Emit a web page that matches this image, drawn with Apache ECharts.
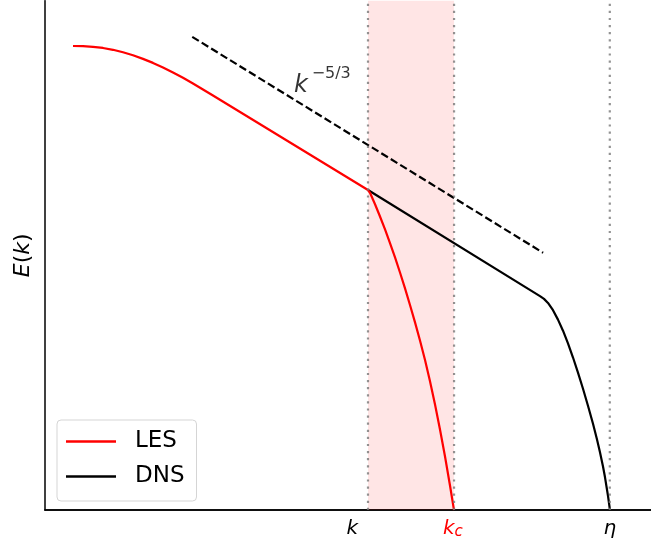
<!DOCTYPE html>
<html>
<head>
<meta charset="utf-8">
<script src="https://cdn.jsdelivr.net/npm/echarts@6/dist/echarts.min.js"></script>
<style>
  html, body { margin: 0; padding: 0; background: #ffffff; }
  #chart { width: 651px; height: 545px; }
</style>
</head>
<body>
<div id="chart"></div>
<script>
// Energy spectrum sketch: log k on x, log E(k) on y (arbitrary units)

// LES spectrum (resolved up to the cutoff k_c)
const lesK = [0.462, 0.627, 0.792, 0.957, 1.122, 1.287, 1.452, 1.617, 1.782, 1.947, 2.112, 2.277, 2.442, 2.607, 2.772,
              5.330, 5.347, 5.363, 5.446, 5.528, 5.611, 5.693, 5.776, 5.858, 5.941, 6.023, 6.106, 6.188, 6.271, 6.353,
              6.436, 6.518, 6.601, 6.683, 6.749];
const lesE = [9.111, 9.107, 9.095, 9.072, 9.036, 8.987, 8.928, 8.858, 8.779, 8.690, 8.592, 8.486, 8.374, 8.257, 8.139,
              6.283, 6.262, 6.228, 6.004, 5.763, 5.510, 5.242, 4.960, 4.663, 4.351, 4.025, 3.683, 3.328, 2.947, 2.529,
              2.073, 1.581, 1.050, 0.481, 0.000];

// DNS spectrum (continues to the Kolmogorov scale)
const dnsK = [5.330, 8.168, 8.234, 8.300, 8.383, 8.465, 8.548, 8.630, 8.713, 8.795, 8.878, 8.960, 9.043, 9.109, 9.158,
              9.208, 9.241, 9.290, 9.323];
const dnsE = [6.283, 4.200, 4.145, 4.066, 3.923, 3.738, 3.521, 3.271, 2.994, 2.696, 2.380, 2.046, 1.693, 1.386, 1.135,
              0.854, 0.642, 0.279, 0.000];

// -5/3 reference slope
const slopeK = [2.43, 8.22];
const slopeE = [9.29, 5.05];

// Filter band and marked wavenumbers (k, k_c, eta)
const bandK = [5.33, 6.75];
const markK = [5.33, 6.75, 9.32];
const yRange = [0, 10];

// Tick labels on the k axis
const tickK = [5.07, 6.73, 9.32];
const tickNames = ['{i|k}', '{r|k}{s|c}', '{i|η}'];

// Slope annotation anchors
const noteK = [4.11, 4.40];
const noteE = [8.325, 8.57];
const noteText = ['k', '−5/3'];

const zip = (a, b) => a.map((v, i) => [v, b[i]]);
const FONT = 'DejaVu Sans';

const guideSeries = markK.map((v, i) => ({
  name: 'guide' + i, type: 'line', data: yRange.map(y => [v, y]),
  showSymbol: false, symbol: 'none', silent: true, z: 6,
  lineStyle: { color: 'rgba(120,120,120,0.8)', width: 2.2, type: [2.2, 4.9], cap: 'butt' }
}));

const chart = echarts.init(document.getElementById('chart'), null, { renderer: 'canvas' });

chart.setOption({
  animation: false,
  backgroundColor: '#ffffff',
  grid: { left: 45, right: 0, top: 0.7, bottom: 35, containLabel: false },
  xAxis: [
    {
      type: 'value', min: 0, max: 10,
      splitLine: { show: false },
      axisTick: { show: false },
      axisLine: { show: true, onZero: false, lineStyle: { color: '#000', width: 1.5 } },
      axisLabel: {
        show: true,
        customValues: tickK,
        margin: 8,
        formatter: (v) => {
          const i = tickK.findIndex(t => Math.abs(t - v) < 1e-6);
          return i >= 0 ? tickNames[i] : '';
        },
        rich: {
          i: { fontFamily: FONT, fontSize: 20, fontStyle: 'italic', color: '#000', lineHeight: 22 },
          r: { fontFamily: FONT, fontSize: 20, fontStyle: 'italic', color: '#ff0000', lineHeight: 22 },
          s: { fontFamily: FONT, fontSize: 15, fontStyle: 'italic', color: '#ff0000', lineHeight: 15, padding: [7, 0, 0, 0] }
        }
      }
    },
    {
      type: 'value', position: 'top', min: 0, max: 10,
      splitLine: { show: false }, axisTick: { show: false }, axisLabel: { show: false },
      axisLine: { show: true, lineStyle: { color: '#000', width: 1.5 } }
    }
  ],
  yAxis: {
    type: 'value', min: yRange[0], max: yRange[1],
    splitLine: { show: false }, axisTick: { show: false }, axisLabel: { show: false },
    axisLine: { show: true, onZero: false, lineStyle: { color: '#000', width: 1.5 } },
    name: '{i|E}{u|(}{i|k}{u|)}',
    nameLocation: 'middle',
    nameRotate: 90,
    nameGap: 11,
    nameTextStyle: {
      rich: {
        i: { fontFamily: FONT, fontSize: 22, fontStyle: 'italic', color: '#000' },
        u: { fontFamily: FONT, fontSize: 22, color: '#000' }
      }
    }
  },
  legend: {
    data: ['LES', 'DNS'],
    orient: 'vertical',
    left: 57, top: 420,
    icon: 'rect',
    itemWidth: 50, itemHeight: 2.5,
    itemGap: 12,
    padding: [10, 12, 13, 9],
    backgroundColor: 'rgba(255,255,255,0.8)',
    borderColor: '#d5d5d5', borderWidth: 1, borderRadius: 4,
    textStyle: { fontFamily: FONT, fontSize: 23, color: '#000', padding: [0, 0, 0, 14] }
  },
  series: [
    {
      name: 'LES', type: 'line', data: zip(lesK, lesE),
      showSymbol: false, symbol: 'none', z: 4,
      lineStyle: { color: '#ff0000', width: 2.2, join: 'round' },
      itemStyle: { color: '#ff0000' },
      markArea: {
        silent: true, z: 1,
        itemStyle: { color: 'rgba(255,0,0,0.1)' },
        data: [[{ xAxis: bandK[0] }, { xAxis: bandK[1] }]]
      }
    },
    {
      name: 'DNS', type: 'line', data: zip(dnsK, dnsE),
      showSymbol: false, symbol: 'none', z: 3,
      lineStyle: { color: '#000000', width: 2.2, join: 'round' },
      itemStyle: { color: '#000000' }
    },
    {
      name: 'slope', type: 'line', data: zip(slopeK, slopeE),
      showSymbol: false, symbol: 'none', z: 3,
      lineStyle: { color: '#000000', width: 2.2, type: [7.7, 3.4], cap: 'butt' }
    },
    ...guideSeries,
    {
      name: 'note', type: 'scatter', symbolSize: 0, silent: true, z: 7,
      data: noteK.map((v, i) => ({
        value: [v, noteE[i]],
        label: {
          show: true, position: [0, 0], align: 'left', verticalAlign: 'middle',
          formatter: noteText[i],
          fontFamily: FONT, color: '#000',
          fontSize: i === 0 ? 24 : 16,
          fontStyle: i === 0 ? 'italic' : 'normal'
        }
      }))
    }
  ]
});
</script>
</body>
</html>
